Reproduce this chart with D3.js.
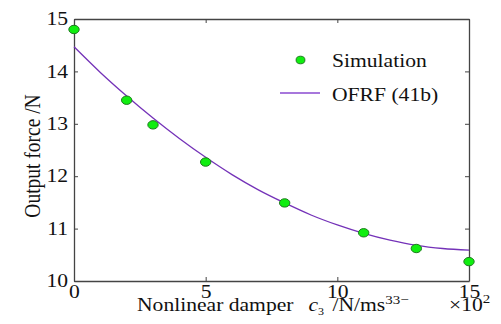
<!DOCTYPE html>
<html>
<head>
<meta charset="utf-8">
<script src="https://cdn.jsdelivr.net/npm/d3@7"></script>
<style>
  body { margin: 0; background: #fff; }
  text { font-family: "Liberation Serif", "DejaVu Serif", serif; fill: #111; }
</style>
</head>
<body>
<div id="chart"></div>
<script>
// simulated output force at each damping value (x100 N/ms^3)
const simC = [0, 2, 3, 5, 8, 11, 13, 15];
const simForce = [14.80, 13.45, 12.98, 12.27, 11.49, 10.92, 10.62, 10.37];

// OFRF (41b) curve
const ofrfC = [0, 1, 2, 3, 4, 5, 6, 7, 8, 9, 10, 11, 12, 13, 14, 15];
const ofrfForce = [14.47, 13.98, 13.53, 13.11, 12.72, 12.36, 12.03, 11.74, 11.49, 11.26, 11.07, 10.91, 10.78, 10.68, 10.62, 10.59];

const xTicks = [0, 5, 10, 15];
const yTicks = [10, 11, 12, 13, 14, 15];

const W = 501, H = 324;
const margin = { top: 19, right: 32, bottom: 43, left: 74 };
const width = W - margin.left - margin.right;
const height = H - margin.top - margin.bottom;
// the original figure's text is a little stretched sideways
const stretch = 1.2;

const svg = d3.select('#chart').append('svg')
  .attr('width', W)
  .attr('height', H);

const g = svg.append('g')
  .attr('transform', `translate(${margin.left},${margin.top})`);

const x = d3.scaleLinear().domain([0, 15]).range([0, width]);
const y = d3.scaleLinear().domain([10, 15]).range([height, 0]);

const axisColor = '#444';

// axes with inward ticks on all four sides
const axBottom = g.append('g')
  .attr('transform', `translate(0,${height})`)
  .call(d3.axisBottom(x).tickValues(xTicks).tickSizeInner(-4).tickSizeOuter(0).tickPadding(4).tickFormat(d3.format('d')));
const axLeft = g.append('g')
  .call(d3.axisLeft(y).tickValues(yTicks).tickSizeInner(-4).tickSizeOuter(0).tickPadding(6).tickFormat(d3.format('d')));
const axTop = g.append('g')
  .call(d3.axisTop(x).tickValues(xTicks).tickSizeInner(-4).tickSizeOuter(0).tickFormat(''));
const axRight = g.append('g')
  .attr('transform', `translate(${width},0)`)
  .call(d3.axisRight(y).tickValues(yTicks).tickSizeInner(-4).tickSizeOuter(0).tickFormat(''));

[axBottom, axLeft, axTop, axRight].forEach(a => {
  a.selectAll('.domain').attr('stroke', axisColor).attr('stroke-width', 1.3);
  a.selectAll('.tick line').attr('stroke', axisColor).attr('stroke-width', 1);
  a.selectAll('.tick text')
    .style('font-family', '"Liberation Serif", serif')
    .style('font-size', '18px')
    .attr('fill', '#111')
    .attr('transform', `scale(${stretch},1)`);
});
axLeft.selectAll('.tick text').attr('x', -6 / stretch);

// OFRF curve
g.append('path')
  .datum(ofrfC.map((c, i) => [c, ofrfForce[i]]))
  .attr('fill', 'none')
  .attr('stroke', '#7432b8')
  .attr('stroke-width', 1.3)
  .attr('d', d3.line().x(d => x(d[0])).y(d => y(d[1])).curve(d3.curveMonotoneX));

// simulation points
g.selectAll('ellipse.sim')
  .data(simC.map((c, i) => [c, simForce[i]]))
  .enter()
  .append('ellipse')
  .attr('class', 'sim')
  .attr('cx', d => x(d[0]))
  .attr('cy', d => y(d[1]))
  .attr('rx', 5.2)
  .attr('ry', 4.2)
  .attr('fill', '#10ee10')
  .attr('stroke', '#1f7a1f')
  .attr('stroke-width', 1);

// legend
const legend = svg.append('g');
legend.append('ellipse')
  .attr('cx', 300.5).attr('cy', 60).attr('rx', 4.4).attr('ry', 3.8)
  .attr('fill', '#10ee10').attr('stroke', '#1f7a1f').attr('stroke-width', 1);
legend.append('text')
  .attr('transform', `translate(332,67) scale(${stretch},1)`)
  .style('font-size', '18px')
  .text('Simulation');
legend.append('line')
  .attr('x1', 280).attr('x2', 320).attr('y1', 93).attr('y2', 93)
  .attr('stroke', '#8a4ad0').attr('stroke-width', 1.3);
legend.append('text')
  .attr('transform', `translate(332,101) scale(${stretch},1)`)
  .style('font-size', '18px')
  .text('OFRF (41b)');

// y label
svg.append('text')
  .attr('transform', `translate(40,156) rotate(-90) scale(1,${stretch})`)
  .attr('text-anchor', 'middle')
  .style('font-size', '19.5px')
  .text('Output force /N');

// x label
const xl = svg.append('text')
  .attr('transform', `translate(137,311) scale(${stretch},1)`)
  .style('font-size', '18px');
xl.append('tspan').text('Nonlinear damper ');
xl.append('tspan').attr('dx', 8).style('font-style', 'italic').text('c');
xl.append('tspan').attr('dy', 4).style('font-size', '10px').text('3');
xl.append('tspan').attr('dy', -4).attr('dx', 7).text('/N/ms');
xl.append('tspan').attr('dy', -7).style('font-size', '12.5px').text('33\u2212');

// scale multiplier
const mult = svg.append('text')
  .attr('transform', `translate(449,311) scale(${stretch},1)`)
  .style('font-size', '18px');
mult.append('tspan').text('\u00d710');
mult.append('tspan').attr('dy', -8).style('font-size', '12.5px').text('2');
</script>
</body>
</html>
